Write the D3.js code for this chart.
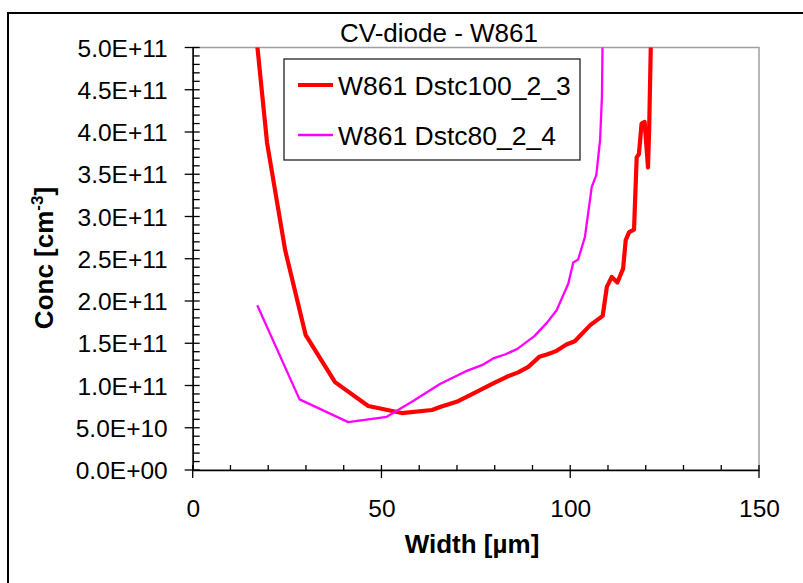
<!DOCTYPE html>
<html>
<head>
<meta charset="utf-8">
<script src="https://cdn.jsdelivr.net/npm/d3@7"></script>
<style>
  body { margin: 0; background: #fff; }
  text { font-family: Arial, "Liberation Sans", sans-serif; fill: #000; }
</style>
</head>
<body>
<div id="chart"></div>
<script>
// values
var title = "CV-diode - W861"
var seriesNames = ["W861 Dstc100_2_3", "W861 Dstc80_2_4"]
var seriesColors = ["#ff0000", "#ff00ff"]
var seriesWidths = [4.2, 2.3]

var redX = [15.8, 19.7, 24.5, 29.9, 37.7, 46.5, 55.4, 63.4, 65.5, 69.9, 74.4, 79.6, 83.2, 86.2, 88.9, 91.8, 93.8, 96.4, 99.0, 101.2,
  105.3, 108.6, 109.7, 111.0, 112.5, 114.0, 114.7, 115.6, 116.9, 117.6, 118.2, 118.9, 119.7, 120.6, 120.9, 121.6]
var redY = [5.6e11, 3.87e11, 2.6e11, 1.6e11, 1.04e11, 7.57e10, 6.74e10, 7.1e10, 7.45e10, 8.07e10, 9.06e10, 1.024e11, 1.103e11, 1.155e11, 1.221e11, 1.339e11, 1.367e11, 1.41e11, 1.485e11, 1.524e11,
  1.714e11, 1.824e11, 2.167e11, 2.285e11, 2.218e11, 2.383e11, 2.72e11, 2.815e11, 2.844e11, 3.7e11, 3.74e11, 4.1e11, 4.12e11, 3.58e11, 4.02e11, 5.6e11]

var magX = [17.1, 28.3, 41.2, 51.4, 58.5, 65.5, 69.4, 72.6, 76.6, 79.6, 82.7, 85.9, 90.5, 93.8, 96.4, 99.5, 100.8, 102.1,
  103.9, 105.7, 106.9, 107.9, 108.4, 108.7]
var magY = [1.95e11, 8.36e10, 5.67e10, 6.3e10, 8.19e10, 1.017e11, 1.103e11, 1.173e11, 1.241e11, 1.32e11, 1.367e11, 1.43e11, 1.584e11, 1.741e11, 1.891e11, 2.207e11, 2.455e11, 2.491e11,
  2.76e11, 3.35e11, 3.49e11, 3.9e11, 4.42e11, 5.6e11]

var xTicks = [0, 50, 100, 150]
var yTicks = [0, 5e10, 1e11, 1.5e11, 2e11, 2.5e11, 3e11, 3.5e11, 4e11, 4.5e11, 5e11]

var width = 803, height = 583
var plot = { left: 192.7, right: 759, top: 47.5, bottom: 470 }

var svg = d3.select("#chart").append("svg")
  .attr("width", width)
  .attr("height", height)

// outer chart border
svg.append("rect")
  .attr("x", 8).attr("y", 13)
  .attr("width", 810).attr("height", 590)
  .attr("fill", "none")
  .attr("stroke", "#000")
  .attr("stroke-width", 2)

var x = d3.scaleLinear().domain([0, 150]).range([plot.left, plot.right])
var y = d3.scaleLinear().domain([0, 5e11]).range([plot.bottom, plot.top])

// plot area frame (grey)
svg.append("rect")
  .attr("x", plot.left).attr("y", plot.top)
  .attr("width", plot.right - plot.left).attr("height", plot.bottom - plot.top)
  .attr("fill", "none")
  .attr("stroke", "#a0a0a0")
  .attr("stroke-width", 1.5)

svg.append("clipPath").attr("id", "clip")
  .append("rect")
  .attr("x", plot.left).attr("y", plot.top)
  .attr("width", plot.right - plot.left).attr("height", plot.bottom - plot.top)

function expFormat(v) {
  if (v === 0) return "0.0E+00"
  var e = Math.floor(Math.log10(v) + 1e-9)
  var m = v / Math.pow(10, e)
  return m.toFixed(1) + "E+" + (e < 10 ? "0" + e : e)
}

// y axis
var yAxis = svg.append("g")
  .attr("transform", "translate(" + plot.left + ",0)")
  .call(d3.axisLeft(y).tickValues(yTicks).tickSize(0).tickPadding(25).tickFormat(expFormat))
yAxis.select(".domain").attr("stroke", "#000").attr("stroke-width", 1.5)
yAxis.selectAll(".tick text").attr("font-size", 24.5).attr("dy", "0.35em")
  .style("font-family", "Arial, 'Liberation Sans', sans-serif")

var yMinor = d3.range(0, 5e11 + 1, 1e10)
svg.append("g").selectAll("line")
  .data(yMinor)
  .enter().append("line")
  .attr("x1", function (d) { return yTicks.indexOf(d) >= 0 ? plot.left - 8 : plot.left })
  .attr("x2", plot.left + 7)
  .attr("y1", function (d) { return y(d) })
  .attr("y2", function (d) { return y(d) })
  .attr("stroke", "#000")
  .attr("stroke-width", 1.3)

// x axis
var xAxis = svg.append("g")
  .attr("transform", "translate(0," + plot.bottom + ")")
  .call(d3.axisBottom(x).tickValues(xTicks).tickSize(0).tickPadding(30))
xAxis.select(".domain").attr("stroke", "#000").attr("stroke-width", 1.5)
xAxis.selectAll(".tick text").attr("font-size", 24.5)
  .style("font-family", "Arial, 'Liberation Sans', sans-serif")

var xMinor = d3.range(0, 151, 10)
svg.append("g").selectAll("line")
  .data(xMinor)
  .enter().append("line")
  .attr("x1", function (d) { return x(d) })
  .attr("x2", function (d) { return x(d) })
  .attr("y1", plot.bottom - 5)
  .attr("y2", function (d) { return xTicks.indexOf(d) >= 0 ? plot.bottom + 8 : plot.bottom })
  .attr("stroke", "#000")
  .attr("stroke-width", 1.3)

// series
var series = [
  redX.map(function (d, i) { return [d, redY[i]] }),
  magX.map(function (d, i) { return [d, magY[i]] })
]
var line = d3.line()
  .x(function (d) { return x(d[0]) })
  .y(function (d) { return y(d[1]) })

svg.append("g").attr("clip-path", "url(#clip)")
  .selectAll("path")
  .data(series)
  .enter().append("path")
  .attr("d", line)
  .attr("fill", "none")
  .attr("stroke", function (d, i) { return seriesColors[i] })
  .attr("stroke-width", function (d, i) { return seriesWidths[i] })
  .attr("stroke-linejoin", "round")

// title
svg.append("text")
  .attr("x", 439).attr("y", 42)
  .attr("text-anchor", "middle")
  .attr("font-size", 26)
  .text(title)

// axis titles
svg.append("text")
  .attr("x", 472).attr("y", 553)
  .attr("text-anchor", "middle")
  .attr("font-size", 26)
  .attr("font-weight", "bold")
  .text("Width [µm]")

var yLab = svg.append("text")
  .attr("transform", "translate(53,258) rotate(-90)")
  .attr("text-anchor", "middle")
  .attr("font-size", 26)
  .attr("font-weight", "bold")
yLab.append("tspan").text("Conc [cm")
yLab.append("tspan").attr("font-size", 17).attr("dy", -10).text("-3")
yLab.append("tspan").attr("dy", 10).text("]")

// legend
var legend = svg.append("g")
legend.append("rect")
  .attr("x", 284).attr("y", 59)
  .attr("width", 296).attr("height", 101)
  .attr("fill", "#fff")
  .attr("stroke", "#222")
  .attr("stroke-width", 1.3)

var entry = legend.selectAll(".entry")
  .data(seriesNames)
  .enter().append("g")
  .attr("class", "entry")
  .attr("transform", function (d, i) { return "translate(0," + (85 + i * 50) + ")" })
entry.append("line")
  .attr("x1", 298).attr("x2", 333)
  .attr("stroke", function (d, i) { return seriesColors[i] })
  .attr("stroke-width", function (d, i) { return seriesWidths[i] })
entry.append("text")
  .attr("x", 338).attr("dy", "0.36em")
  .attr("font-size", 26.5)
  .text(function (d) { return d })
</script>
</body>
</html>
